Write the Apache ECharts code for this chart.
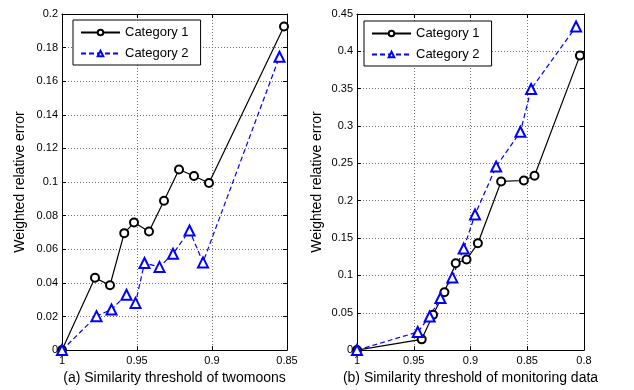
<!DOCTYPE html>
<html>
<head>
<meta charset="utf-8">
<script src="https://cdn.jsdelivr.net/npm/echarts@6/dist/echarts.min.js"></script>
<style>
  html, body { margin: 0; padding: 0; background: #fff; }
  #chart { width: 634px; height: 390px; }
</style>
</head>
<body>
<div id="chart"></div>
<script>
// (a) twomoons
var leftX1 = [1, 0.978, 0.968, 0.9585, 0.952, 0.942, 0.932, 0.922, 0.912, 0.902, 0.852];
var leftY1 = [0, 0.043, 0.0386, 0.0696, 0.0759, 0.0706, 0.0889, 0.1075, 0.1036, 0.0994, 0.1926];
var leftX2 = [1, 0.977, 0.967, 0.957, 0.951, 0.945, 0.935, 0.926, 0.915, 0.906, 0.855];
var leftY2 = [0, 0.0202, 0.0242, 0.0329, 0.0281, 0.0518, 0.0495, 0.0573, 0.0712, 0.0522, 0.1746];
// (b) monitoring data
var rightX1 = [1, 0.943, 0.933, 0.923, 0.913, 0.9035, 0.8935, 0.873, 0.853, 0.8436, 0.8036];
var rightY1 = [0, 0.0144, 0.0472, 0.0774, 0.1164, 0.1213, 0.143, 0.2258, 0.2271, 0.2334, 0.3943];
var rightX2 = [1, 0.9465, 0.936, 0.9265, 0.916, 0.906, 0.896, 0.8774, 0.856, 0.8466, 0.807];
var rightY2 = [0, 0.0242, 0.045, 0.0698, 0.0973, 0.1359, 0.1815, 0.2457, 0.2923, 0.3495, 0.4332];

var seriesNames = ['Category 1', 'Category 2'];
var xTitles = ['(a) Similarity threshold of twomoons', '(b) Similarity threshold of monitoring data'];
var yTitle = 'Weighted relative error';

function pairs(xs, ys) {
    return xs.map(function (x, i) { return [x, ys[i]]; });
}

var font = 'Liberation Sans, Arial, sans-serif';
var gridLine = { show: true, lineStyle: { color: '#707070', type: [1, 2], width: 1 } };

function mainX(gi, min, name) {
    return {
        type: 'value', gridIndex: gi, min: min, max: 1, interval: 0.05, inverse: true,
        name: name, nameLocation: 'middle', nameGap: 20,
        nameTextStyle: { fontFamily: font, fontSize: 14, color: '#000' },
        axisLine: { onZero: false, lineStyle: { color: '#000' } },
        axisTick: { inside: true, length: 4, lineStyle: { color: '#000' } },
        axisLabel: { fontFamily: font, fontSize: 11, color: '#000', margin: 5 },
        splitLine: gridLine
    };
}
function mainY(gi, max, step, gap) {
    return {
        type: 'value', gridIndex: gi, min: 0, max: max, interval: step,
        name: yTitle, nameLocation: 'middle', nameGap: gap,
        nameTextStyle: { fontFamily: font, fontSize: 14, color: '#000' },
        axisLine: { onZero: false, lineStyle: { color: '#000' } },
        axisTick: { inside: true, length: 4, lineStyle: { color: '#000' } },
        axisLabel: { fontFamily: font, fontSize: 11, color: '#000', margin: 4 },
        splitLine: gridLine
    };
}
function boxX(gi, min) {
    return {
        type: 'value', gridIndex: gi, min: min, max: 1, interval: 0.05, inverse: true, position: 'top',
        axisLine: { onZero: false, lineStyle: { color: '#000' } },
        axisTick: { inside: true, length: 4, lineStyle: { color: '#000' } },
        axisLabel: { show: false }, splitLine: { show: false }
    };
}
function boxY(gi, max, step) {
    return {
        type: 'value', gridIndex: gi, min: 0, max: max, interval: step, position: 'right',
        axisLine: { onZero: false, lineStyle: { color: '#000' } },
        axisTick: { inside: true, length: 4, lineStyle: { color: '#000' } },
        axisLabel: { show: false }, splitLine: { show: false }
    };
}
function legendAt(left, top) {
    return {
        left: left, top: top, orient: 'vertical',
        data: seriesNames,
        backgroundColor: '#fff', borderColor: '#000', borderWidth: 1, borderRadius: 0,
        padding: [6, 12, 5, 7], itemGap: 8, itemWidth: 39, itemHeight: 7,
        textStyle: { fontFamily: font, fontSize: 13, color: '#000' },
        selectedMode: false
    };
}
function cat1(xi, yi, data) {
    return {
        name: seriesNames[0], type: 'line', xAxisIndex: xi, yAxisIndex: yi, data: data,
        symbol: 'emptyCircle', symbolSize: 8, color: '#000',
        itemStyle: { color: '#000', borderColor: '#000', borderWidth: 1.2 },
        lineStyle: { color: '#000', width: 1.2 }, animation: false
    };
}
function cat2(xi, yi, data) {
    return {
        name: seriesNames[1], type: 'line', xAxisIndex: xi, yAxisIndex: yi, data: data,
        symbol: 'emptyTriangle', symbolSize: 10, color: '#0000ff',
        itemStyle: { color: '#0000ff', borderColor: '#0000ff', borderWidth: 1.2 },
        lineStyle: { color: '#0000ff', width: 1.2, type: [5, 3] }, animation: false
    };
}

var chart = echarts.init(document.getElementById('chart'), null, { renderer: 'canvas' });
chart.setOption({
    backgroundColor: '#fff',
    animation: false,
    grid: [
        { left: 62, right: 347, top: 14, bottom: 39 },
        { left: 357, right: 50, top: 14, bottom: 39 }
    ],
    xAxis: [mainX(0, 0.85, xTitles[0]), mainX(1, 0.8, xTitles[1]), boxX(0, 0.85), boxX(1, 0.8)],
    yAxis: [mainY(0, 0.2, 0.02, 35), mainY(1, 0.45, 0.05, 33), boxY(0, 0.2, 0.02), boxY(1, 0.45, 0.05)],
    legend: [legendAt(73, 20), legendAt(364, 21)],
    series: [
        cat1(0, 0, pairs(leftX1, leftY1)),
        cat2(0, 0, pairs(leftX2, leftY2)),
        cat1(1, 1, pairs(rightX1, rightY1)),
        cat2(1, 1, pairs(rightX2, rightY2))
    ]
});
</script>
</body>
</html>
